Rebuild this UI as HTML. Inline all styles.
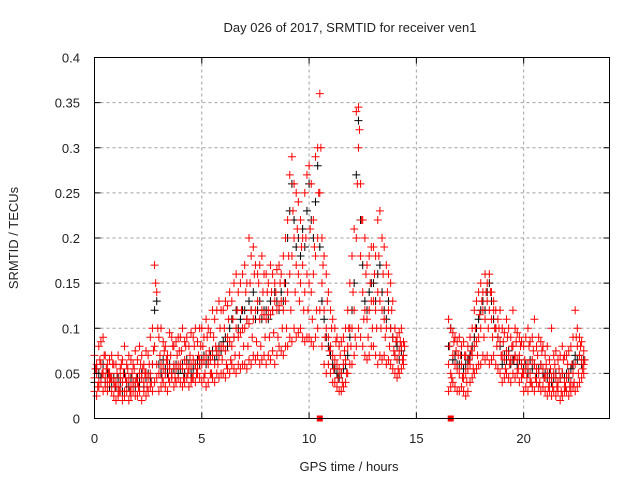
<!DOCTYPE html>
<html><head><meta charset="utf-8"><style>
body{margin:0;background:#fff;width:640px;height:480px;overflow:hidden}
svg text{font-family:"Liberation Sans",sans-serif;font-size:13px;fill:#222}
</style></head><body>
<svg id="chart" width="640" height="480">
<g id="grid"></g>
<g id="marks"></g>
<rect x="94.5" y="57.5" width="515" height="361" fill="none" stroke="#000"/>
<g id="axes"></g>
<text x="350" y="32" text-anchor="middle">Day 026 of 2017, SRMTID for receiver ven1</text>
<text x="349" y="471" text-anchor="middle">GPS time / hours</text>
<text transform="translate(18,238) rotate(-90)" text-anchor="middle">SRMTID / TECUs</text>
</svg>
<script>
const xTicks=[0,5,10,15,20];
const yTicks=[0,0.05,0.1,0.15,0.2,0.25,0.3,0.35,0.4];
const yTickLabels=["0","0.05","0.1","0.15","0.2","0.25","0.3","0.35","0.4"];
const times=[0,.1,.2,.3,.4,.5,.6,.7,.8,.9,1,1.1,1.2,1.3,1.4,1.5,1.6,1.7,1.8,1.9,2,2.1,2.2,2.3,2.4,2.5,2.6,2.7,2.8,2.9,3,3.1,3.2,3.3,3.4,3.5,3.6,3.7,3.8,3.9,4,4.1,4.2,4.3,4.4,4.5,4.6,4.7,4.8,4.9,5,5.1,5.2,5.3,5.4,5.5,5.6,5.7,5.8,5.9,6,6.1,6.2,6.3,6.4,6.5,6.6,6.7,6.8,6.9,7,7.1,7.2,7.3,7.4,7.5,7.6,7.7,7.8,7.9,8,8.1,8.2,8.3,8.4,8.5,8.6,8.7,8.8,8.9,9,9.1,9.2,9.3,9.4,9.5,9.6,9.7,9.8,9.9,10,10.1,10.2,10.3,10.4,10.5,10.6,10.7,10.8,10.9,11,11.1,11.2,11.3,11.4,11.5,11.6,11.7,11.8,11.9,12,12.1,12.2,12.3,12.4,12.5,12.6,12.7,12.8,12.9,13,13.1,13.2,13.3,13.4,13.5,13.6,13.7,13.8,13.9,14,14.1,14.2,14.3,14.4,
16.5,16.6,16.7,16.8,16.9,17,17.1,17.2,17.3,17.4,17.5,17.6,17.7,17.8,17.9,18,18.1,18.2,18.3,18.4,18.5,18.6,18.7,18.8,18.9,19,19.1,19.2,19.3,19.4,19.5,19.6,19.7,19.8,19.9,20,20.1,20.2,20.3,20.4,20.5,20.6,20.7,20.8,20.9,21,21.1,21.2,21.3,21.4,21.5,21.6,21.7,21.8,21.9,22,22.1,22.2,22.3,22.4,22.5,22.6,22.7,22.8];
const redLow=[.03,.025,.035,.04,.03,.035,.03,.04,.03,.025,.02,.025,.03,.02,.025,.03,.02,.025,.03,.025,.025,.03,.02,.03,.025,.03,.035,.03,.04,.045,.03,.035,.04,.035,.03,.04,.045,.035,.04,.045,.04,.035,.04,.045,.035,.04,.045,.04,.05,.045,.04,.045,.035,.04,.05,.045,.04,.05,.045,.05,.05,.045,.055,.05,.06,.055,.05,.06,.055,.06,.06,.055,.065,.06,.07,.065,.07,.06,.065,.07,.06,.07,.065,.075,.06,.07,.08,.075,.07,.08,.08,.09,.085,.1,.09,.095,.1,.09,.085,.09,.09,.085,.08,.09,.1,.12,.08,.06,.05,.06,.05,.04,.04,.035,.03,.03,.035,.04,.05,.06,.06,.07,.08,.1,.09,.08,.07,.065,.07,.08,.08,.07,.06,.07,.065,.07,.06,.065,.06,.055,.05,.045,.05,.055,.06,
.03,.035,.04,.035,.03,.03,.035,.03,.025,.03,.04,.045,.05,.055,.06,.06,.07,.065,.07,.06,.065,.07,.06,.055,.05,.04,.045,.05,.045,.04,.05,.045,.05,.04,.045,.03,.035,.03,.04,.035,.03,.04,.035,.03,.035,.03,.025,.03,.025,.03,.025,.03,.02,.025,.03,.03,.025,.03,.035,.03,.035,.04,.045,.05];
const redMid=[.045,.05,.04,.06,.05,.045,.04,.05,.045,.04,.04,.035,.045,.04,.03,.04,.045,.035,.04,.04,.04,.05,.045,.04,.05,.045,.05,.06,.08,.06,.05,.06,.055,.05,.06,.055,.05,.06,.055,.06,.06,.055,.065,.06,.055,.06,.065,.06,.055,.065,.06,.065,.07,.06,.065,.07,.06,.075,.07,.08,.08,.075,.09,.085,.08,.09,.1,.09,.095,.1,.1,.11,.105,.12,.11,.12,.13,.11,.12,.115,.11,.12,.115,.12,.13,.12,.125,.13,.12,.13,.14,.16,.18,.2,.17,.16,.15,.17,.14,.16,.15,.14,.16,.18,.2,.25,.15,.12,.1,.09,.08,.07,.065,.06,.055,.05,.06,.065,.08,.1,.1,.12,.2,.3,.18,.14,.12,.11,.12,.13,.13,.12,.14,.13,.12,.11,.1,.12,.1,.09,.07,.065,.075,.08,.07,
.06,.05,.07,.06,.055,.05,.06,.045,.05,.055,.06,.07,.08,.085,.09,.1,.12,.11,.13,.12,.11,.12,.1,.09,.085,.07,.065,.075,.07,.065,.08,.07,.065,.07,.06,.05,.055,.06,.05,.065,.06,.055,.05,.06,.055,.045,.05,.04,.045,.05,.045,.04,.045,.05,.04,.045,.05,.04,.05,.06,.08,.07,.065,.06];
const redHigh=[.07,.06,.08,.085,.09,.07,.06,.065,.07,.06,.06,.07,.055,.065,.08,.06,.07,.065,.06,.075,.065,.08,.07,.06,.075,.07,.09,.1,.17,.14,.09,.1,.085,.08,.07,.095,.09,.08,.085,.09,.09,.1,.085,.09,.08,.095,.09,.1,.085,.1,.1,.09,.11,.1,.095,.12,.11,.12,.13,.12,.12,.13,.125,.14,.13,.15,.16,.14,.15,.16,.17,.15,.2,.18,.19,.17,.16,.17,.18,.16,.16,.15,.17,.16,.15,.165,.17,.16,.18,.2,.22,.27,.29,.26,.25,.24,.22,.2,.25,.27,.28,.26,.22,.29,.3,.36,.2,.18,.16,.14,.12,.11,.1,.09,.08,.085,.09,.1,.12,.15,.18,.21,.34,.345,.26,.22,.2,.17,.18,.19,.19,.18,.22,.23,.2,.19,.17,.16,.15,.13,.1,.09,.095,.1,.085,
.11,.1,.095,.09,.085,.09,.08,.085,.07,.08,.09,.1,.12,.13,.14,.15,.14,.16,.15,.16,.14,.13,.12,.11,.12,.1,.095,.11,.1,.09,.12,.1,.095,.09,.085,.08,.09,.1,.085,.09,.11,.08,.09,.085,.08,.07,.08,.065,.1,.07,.075,.065,.07,.08,.07,.07,.075,.08,.09,.12,.1,.09,.085,.075];
const redExtra=[.055,.035,.065,.05,.07,.055,.05,.045,.06,.035,.05,.03,.06,.05,.045,.055,.03,.05,.055,.045,.035,.06,.055,.05,.035,.06,.04,.075,.15,.1,.07,.045,.075,.065,.045,.07,.08,.045,.07,.075,.075,.045,.08,.05,.07,.045,.08,.05,.07,.08,.08,.05,.09,.075,.05,.09,.08,.06,.1,.065,.1,.06,.11,.065,.11,.07,.12,.07,.12,.08,.14,.08,.15,.09,.16,.085,.15,.08,.14,.09,.14,.09,.14,.095,.14,.09,.15,.1,.15,.1,.18,.12,.23,.14,.21,.13,.19,.12,.2,.12,.21,.11,.19,.12,.25,.3,.17,.09,.13,.075,.1,.055,.085,.045,.07,.04,.075,.05,.1,.08,.14,.09,.26,.32,.22,.11,.16,.09,.15,.1,.16,.1,.18,.1,.16,.09,.14,.08,.12,.075,.085,.055,.085,.065,.08,
.08,.045,.085,.075,.07,.07,.045,.07,.04,.065,.075,.055,.1,.07,.115,.13,.09,.14,.1,.14,.09,.1,.08,.1,.07,.085,.055,.09,.06,.08,.065,.085,.055,.08,.05,.065,.045,.08,.04,.075,.045,.07,.04,.075,.045,.06,.035,.055,.035,.06,.035,.055,.03,.065,.035,.06,.035,.06,.04,.09,.05,.08,.055,.065];
const blackVals=[.04,.055,.05,.045,.06,.04,.05,.035,.04,.045,.035,.045,.04,.03,.05,.04,.035,.045,.04,.035,.045,.04,.05,.035,.045,.05,.045,.06,.12,.13,.06,.05,.065,.055,.05,.06,.05,.055,.06,.05,.055,.06,.05,.065,.06,.05,.055,.06,.065,.06,.065,.07,.06,.065,.07,.075,.065,.07,.08,.075,.085,.09,.08,.1,.11,.09,.12,.1,.11,.12,.12,.11,.13,.12,.14,.11,.12,.13,.11,.12,.12,.11,.13,.12,.14,.13,.12,.14,.13,.15,.2,.23,.26,.22,.19,.2,.18,.21,.19,.23,.26,.22,.2,.24,.28,.19,.13,.11,.09,.08,.07,.06,.055,.05,.045,.05,.055,.06,.07,.09,.12,.15,.27,.33,.22,.17,.13,.12,.14,.15,.15,.13,.16,.17,.14,.12,.11,.13,.1,.09,.07,.08,.065,.075,.07,
.08,.1,.065,.07,.06,.06,.07,.055,.06,.065,.07,.08,.09,.1,.11,.12,.13,.12,.14,.15,.13,.11,.1,.09,.08,.06,.07,.065,.075,.06,.065,.07,.06,.065,.06,.055,.06,.05,.065,.055,.06,.05,.055,.06,.05,.05,.045,.05,.04,.045,.05,.04,.045,.05,.045,.05,.045,.055,.06,.07,.065,.07,.06,.065];
const gapMarks=[10.5,16.6];

const NS='http://www.w3.org/2000/svg';
const X0=94.5,X1=609.5,Y0=418.5,Y1=57.5,XMAX=24,YMAX=0.4;
function xs(v){return X0+(X1-X0)*v/XMAX;}
function ys(v){return Y0-(Y0-Y1)*v/YMAX;}
function mk(tag,attrs,parent){const e=document.createElementNS(NS,tag);for(const k in attrs)e.setAttribute(k,attrs[k]);parent.appendChild(e);return e;}
const grid=document.getElementById('grid'),axes=document.getElementById('axes'),marks=document.getElementById('marks');
xTicks.forEach((t,i)=>{
  const x=xs(t);
  if(t>0){const g=mk('line',{x1:x,x2:x,y1:Y1,y2:Y0,stroke:'#a0a0a0','stroke-dasharray':'3,3'},grid);
  
  }
  const tk=mk('path',{d:`M${x},${Y0}v-6M${x},${Y1}v6`,stroke:'#000'},axes);
  
  
  const tx=mk('text',{x:x,y:443,'text-anchor':'middle'},axes);tx.textContent=t;
  
  
});
yTicks.forEach((t,i)=>{
  const y=ys(t);
  if(t>0&&t<YMAX){const g=mk('line',{x1:X0,x2:X1,y1:y,y2:y,stroke:'#a0a0a0','stroke-dasharray':'3,3'},grid);
  
  }
  const tk=mk('path',{d:`M${X0},${y}h6M${X1},${y}h-6`,stroke:'#000'},axes);
  
  
  const tx=mk('text',{x:80,y:y+5,'text-anchor':'end'},axes);tx.textContent=yTickLabels[i];
  
  
});
function plus(t,v,color,name){
  const x=xs(t),y=ys(v);
  const p=mk('path',{d:`M${x-4},${y}h8M${x},${y-4}v8`,stroke:color,'stroke-width':1},marks);
  
  
}
times.forEach((t,i)=>{plus(t,blackVals[i],'#000','black-point');});
times.forEach((t,i)=>{
  plus(t,redLow[i],'#f00','red-point');
  plus(t,redMid[i],'#f00','red-point');
  plus(t,redHigh[i],'#f00','red-point');
  plus(t+0.05,redExtra[i],'#f00','red-point');
});
gapMarks.forEach(t=>{
  const r=mk('rect',{x:xs(t)-3,y:Y0-3,width:6,height:6,fill:'#f00'},marks);
  
  
});
</script>
</body></html>
